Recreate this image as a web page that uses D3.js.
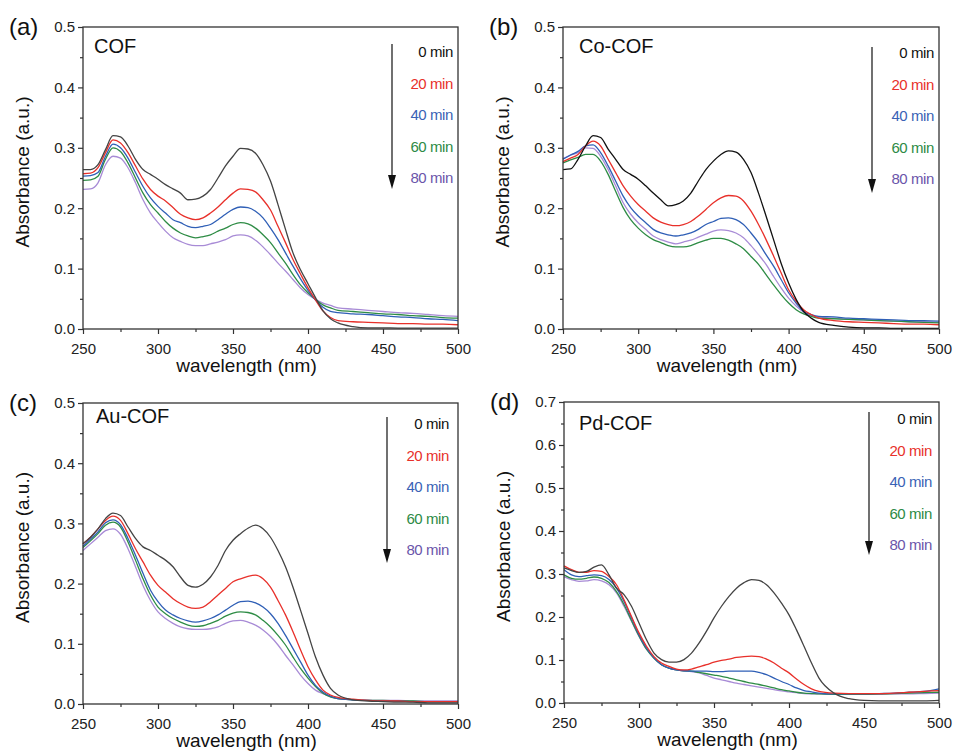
<!DOCTYPE html>
<html>
<head>
<meta charset="utf-8">
<script src="https://cdn.jsdelivr.net/npm/d3@7"></script>
<style>
  body { margin: 0; background: #fff; }
  svg { font-family: "Liberation Sans", Arial, sans-serif; }
  .axis path, .axis line { stroke: #333; stroke-width: 1.2; }
  .axis text { font-size: 15px; fill: #222; font-family: "Liberation Sans", Arial, sans-serif; }
</style>
</head>
<body>
<div id="chart"></div>
<script>
// wavelength grid (nm) shared by all spectra
var wavelength = [250, 255, 260, 265, 270, 275, 280, 285, 290, 295, 300, 305, 310, 315, 320,
    325, 330, 335, 340, 345, 350, 355, 360, 365, 370, 375, 380, 385, 390, 395, 400, 405, 410,
    415, 420, 430, 440, 450, 460, 470, 480, 490, 500];

var times = ['0 min', '20 min', '40 min', '60 min', '80 min'];

// (a) COF
var cofSpectra = [
    [.264, .264, .272, .297, .320, .318, .303, .281, .264, .256, .248, .239, .232, .225, .214, .215, .220, .231, .250, .270, .286, .299, .298, .291, .272, .245, .206, .165, .126, .098, .075, .052, .030, .017, .010, .004, .002, .002, .0015, .0015, .0015, .0015, .0015],
    [.257, .258, .267, .292, .313, .308, .292, .270, .248, .231, .220, .212, .201, .190, .184, .181, .184, .192, .202, .214, .225, .232, .231, .227, .214, .197, .170, .143, .115, .091, .068, .048, .030, .019, .014, .012, .011, .010, .009, .009, .008, .008, .007],
    [.253, .254, .259, .286, .306, .300, .283, .259, .236, .217, .203, .192, .181, .176, .170, .168, .170, .173, .181, .190, .198, .202, .201, .195, .184, .167, .148, .126, .104, .083, .064, .048, .036, .029, .027, .025, .024, .022, .020, .019, .017, .016, .014],
    [.246, .247, .253, .281, .300, .294, .275, .250, .225, .206, .192, .178, .167, .159, .154, .151, .153, .156, .162, .167, .173, .176, .174, .167, .156, .143, .126, .109, .090, .073, .060, .049, .040, .035, .031, .029, .027, .025, .024, .022, .021, .019, .018],
    [.231, .232, .242, .272, .286, .283, .267, .242, .214, .192, .176, .162, .151, .145, .140, .138, .138, .141, .144, .148, .154, .156, .154, .147, .136, .123, .109, .096, .082, .068, .057, .049, .043, .039, .035, .033, .031, .029, .027, .026, .024, .022, .021]
];

// (b) Co-COF
var coCofSpectra = [
    [.264, .265, .281, .303, .320, .317, .298, .281, .264, .256, .248, .237, .225, .214, .204, .206, .212, .225, .245, .264, .278, .289, .295, .293, .281, .259, .225, .187, .148, .109, .076, .049, .029, .018, .011, .006, .003, .002, .002, .001, .001, .001, .001],
    [.277, .283, .289, .303, .311, .303, .281, .259, .237, .220, .206, .195, .184, .177, .173, .171, .173, .178, .187, .198, .209, .217, .221, .220, .212, .195, .173, .148, .121, .093, .065, .046, .032, .024, .018, .014, .012, .011, .010, .009, .008, .008, .007],
    [.281, .288, .294, .303, .305, .292, .270, .245, .220, .201, .187, .176, .165, .159, .156, .154, .156, .159, .165, .173, .178, .183, .184, .181, .173, .159, .143, .123, .104, .082, .060, .043, .029, .024, .021, .020, .018, .017, .016, .015, .014, .014, .013],
    [.275, .280, .284, .289, .289, .278, .256, .228, .201, .181, .167, .156, .148, .143, .138, .136, .136, .138, .143, .147, .150, .150, .147, .141, .133, .120, .107, .090, .073, .057, .043, .032, .025, .021, .018, .017, .016, .015, .014, .013, .012, .011, .010],
    [.282, .288, .292, .300, .299, .286, .264, .237, .209, .190, .176, .165, .154, .148, .144, .141, .144, .147, .152, .157, .162, .164, .163, .159, .151, .138, .123, .107, .087, .068, .051, .038, .028, .022, .020, .018, .016, .015, .014, .013, .012, .012, .011]
];

// (c) Au-COF
var auCofSpectra = [
    [.266, .277, .291, .308, .317, .313, .294, .275, .261, .255, .247, .239, .228, .211, .197, .194, .199, .211, .230, .255, .272, .283, .292, .297, .291, .277, .255, .228, .194, .156, .117, .078, .048, .026, .015, .007, .005, .004, .003, .003, .002, .002, .002],
    [.266, .277, .291, .305, .312, .305, .283, .258, .236, .214, .197, .186, .175, .167, .161, .159, .161, .170, .181, .192, .203, .208, .212, .214, .208, .194, .172, .148, .120, .090, .062, .040, .023, .015, .011, .008, .006, .005, .005, .004, .004, .004, .004],
    [.262, .274, .286, .301, .306, .298, .275, .247, .217, .189, .170, .156, .148, .142, .138, .136, .138, .142, .148, .156, .164, .170, .171, .168, .161, .150, .134, .114, .092, .070, .048, .031, .020, .013, .009, .007, .006, .005, .005, .004, .004, .004, .004],
    [.260, .271, .283, .297, .302, .294, .269, .239, .208, .181, .161, .150, .142, .136, .131, .129, .130, .134, .139, .146, .151, .153, .152, .148, .139, .128, .114, .098, .078, .059, .043, .029, .018, .012, .009, .007, .006, .006, .005, .005, .004, .004, .004],
    [.255, .266, .277, .288, .291, .282, .258, .228, .197, .172, .153, .142, .134, .128, .125, .124, .124, .125, .128, .134, .138, .139, .136, .131, .123, .112, .098, .081, .065, .048, .034, .023, .017, .012, .009, .007, .006, .006, .006, .005, .005, .005, .005]
];

// (d) Pd-COF
var pdCofSpectra = [
    [.314, .308, .304, .306, .316, .321, .298, .267, .252, .225, .186, .147, .116, .101, .095, .095, .101, .116, .139, .167, .198, .225, .248, .267, .280, .287, .285, .275, .256, .232, .205, .170, .132, .093, .058, .023, .010, .006, .005, .005, .005, .005, .006],
    [.319, .310, .304, .304, .308, .306, .294, .275, .240, .201, .163, .132, .108, .093, .085, .079, .077, .079, .084, .089, .095, .099, .102, .106, .108, .109, .108, .102, .093, .081, .070, .056, .043, .033, .027, .023, .022, .022, .022, .023, .025, .027, .029],
    [.310, .298, .294, .296, .298, .296, .287, .267, .236, .198, .159, .128, .105, .089, .081, .077, .075, .074, .074, .074, .073, .073, .074, .074, .074, .074, .071, .066, .058, .050, .043, .035, .029, .026, .023, .021, .021, .021, .022, .023, .025, .027, .033],
    [.298, .290, .288, .290, .293, .290, .280, .259, .229, .192, .156, .125, .104, .089, .081, .077, .075, .074, .071, .068, .065, .062, .058, .054, .050, .046, .043, .039, .035, .031, .028, .025, .023, .022, .021, .020, .020, .020, .021, .022, .023, .024, .025],
    [.294, .287, .283, .284, .287, .284, .275, .256, .225, .190, .155, .125, .105, .089, .081, .077, .075, .073, .070, .064, .058, .054, .050, .046, .043, .040, .037, .034, .031, .028, .026, .024, .022, .021, .021, .020, .020, .020, .020, .021, .021, .022, .023]
];

var lineColors = ['#444', '#e8302a', '#2f5fb6', '#2e8c45', '#a88bd6'];
var textColors = ['#111', '#e8302a', '#3a62b5', '#2d8a45', '#6b55aa'];

// layout of the four panels (pixel boxes and text offsets)
var panels = [
    { tag: '(a)', name: 'COF', data: cofSpectra, yMax: 0.5, x0: 83, x1: 458, y0: 27, y1: 329,
      nameDx: 11, nameDy: 26, arrowDx: -66, arrowTop: 17, arrowBot: 162, legDx: -5, legDy: 30, zeroColor: '#444' },
    { tag: '(b)', name: 'Co-COF', data: coCofSpectra, yMax: 0.5, x0: 563, x1: 939, y0: 27, y1: 329,
      nameDx: 16, nameDy: 26, arrowDx: -67, arrowTop: 20, arrowBot: 166, legDx: -5, legDy: 31, zeroColor: '#111' },
    { tag: '(c)', name: 'Au-COF', data: auCofSpectra, yMax: 0.5, x0: 83, x1: 458, y0: 403, y1: 704,
      nameDx: 13, nameDy: 20, arrowDx: -71, arrowTop: 14, arrowBot: 160, legDx: -9, legDy: 26, zeroColor: '#444' },
    { tag: '(d)', name: 'Pd-COF', data: pdCofSpectra, yMax: 0.7, x0: 564, x1: 939, y0: 402, y1: 703,
      nameDx: 15, nameDy: 28, arrowDx: -70, arrowTop: 10, arrowBot: 153, legDx: -7, legDy: 22, zeroColor: '#444' }
];

var svg = d3.select('#chart').append('svg')
    .attr('width', 959)
    .attr('height', 753);

panels.forEach(function (p) {
    var x = d3.scaleLinear().domain([250, 500]).range([p.x0, p.x1]);
    var y = d3.scaleLinear().domain([0, p.yMax]).range([p.y1, p.y0]);
    var g = svg.append('g');

    // minor ticks
    var xMinor = d3.range(275, 500, 50);
    var yMinor = d3.range(0.05, p.yMax, 0.1);
    g.append('g').attr('class', 'axis')
        .attr('transform', `translate(0, ${p.y1})`)
        .call(d3.axisBottom(x).tickValues(xMinor).tickSize(3).tickFormat(''))
        .call(a => a.select('.domain').remove());
    g.append('g').attr('class', 'axis')
        .attr('transform', `translate(${p.x0}, 0)`)
        .call(d3.axisLeft(y).tickValues(yMinor).tickSize(3).tickFormat(''))
        .call(a => a.select('.domain').remove());

    // major ticks
    g.append('g').attr('class', 'axis')
        .attr('transform', `translate(0, ${p.y1})`)
        .call(d3.axisBottom(x).tickValues([250, 300, 350, 400, 450, 500]).tickSize(5).tickPadding(9).tickSizeOuter(0))
        .call(a => a.select('.domain').remove());
    g.append('g').attr('class', 'axis')
        .attr('transform', `translate(${p.x0}, 0)`)
        .call(d3.axisLeft(y).ticks(Math.round(p.yMax * 10)).tickSize(5).tickPadding(3).tickFormat(d3.format('.1f')))
        .call(a => a.select('.domain').remove());

    // spectra
    var line = d3.line()
        .x((d, i) => x(wavelength[i]))
        .y(d => y(d))
        .curve(d3.curveMonotoneX);

    p.data.slice().reverse().forEach(function (series, k) {
        var idx = p.data.length - 1 - k;
        g.append('path')
            .datum(series)
            .attr('fill', 'none')
            .attr('stroke', idx === 0 ? p.zeroColor : lineColors[idx])
            .attr('stroke-width', 1.3)
            .attr('d', line);
    });

    // frame
    g.append('rect')
        .attr('x', p.x0).attr('y', p.y0)
        .attr('width', p.x1 - p.x0).attr('height', p.y1 - p.y0)
        .attr('fill', 'none')
        .attr('stroke', '#333')
        .attr('stroke-width', 1.3);

    // panel tag and sample name
    g.append('text')
        .attr('x', p.x0 - 74).attr('y', p.y0 + 8)
        .attr('font-size', '24px')
        .attr('fill', '#111')
        .text(p.tag);
    g.append('text')
        .attr('x', p.x0 + p.nameDx).attr('y', p.y0 + p.nameDy)
        .attr('font-size', '20px')
        .attr('fill', '#111')
        .text(p.name);

    // axis titles
    g.append('text')
        .attr('x', (p.x0 + p.x1) / 2 - 24).attr('y', p.y1 + 43)
        .attr('text-anchor', 'middle')
        .attr('font-size', '19px')
        .attr('fill', '#111')
        .text('wavelength (nm)');
    g.append('text')
        .attr('transform', `translate(${p.x0 - 54}, ${(p.y0 + p.y1) / 2 - 6}) rotate(-90)`)
        .attr('text-anchor', 'middle')
        .attr('font-size', '19px')
        .attr('fill', '#111')
        .text('Absorbance (a.u.)');

    // legend arrow and labels
    var ax = p.x1 + p.arrowDx;
    var tipY = p.y0 + p.arrowBot;
    g.append('line')
        .attr('x1', ax).attr('x2', ax)
        .attr('y1', p.y0 + p.arrowTop).attr('y2', tipY - 6)
        .attr('stroke', '#111')
        .attr('stroke-width', 1.2);
    g.append('path')
        .attr('d', `M${ax - 4},${tipY - 14} L${ax + 4},${tipY - 14} L${ax},${tipY} Z`)
        .attr('fill', '#111');

    g.selectAll('.leg')
        .data(times)
        .enter()
        .append('text')
        .attr('x', p.x1 + p.legDx)
        .attr('y', (d, i) => p.y0 + p.legDy + i * 31.5)
        .attr('text-anchor', 'end')
        .attr('font-size', '15px')
        .attr('letter-spacing', '-0.4px')
        .attr('fill', (d, i) => textColors[i])
        .text(d => d);
});
</script>
</body>
</html>
